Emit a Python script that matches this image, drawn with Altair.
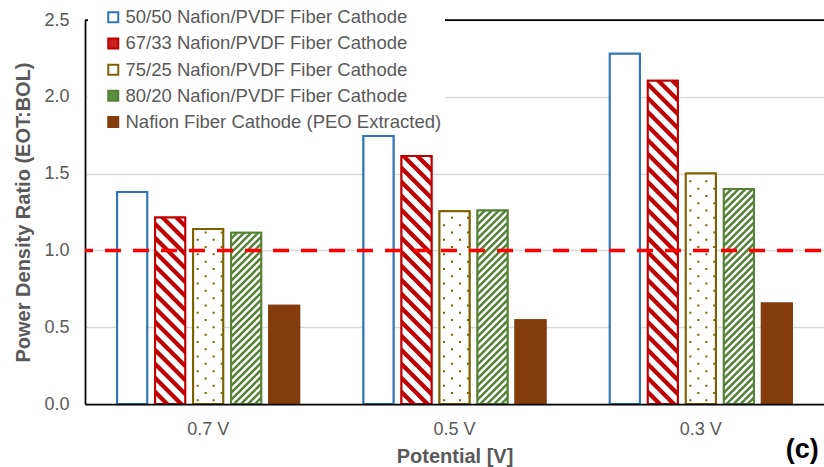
import math
import altair as alt
import pandas as pd

# ---------------- data ----------------
POTENTIALS = ["0.7 V", "0.5 V", "0.3 V"]
SERIES = [
    "50/50 Nafion/PVDF Fiber Cathode",
    "67/33 Nafion/PVDF Fiber Cathode",
    "75/25 Nafion/PVDF Fiber Cathode",
    "80/20 Nafion/PVDF Fiber Cathode",
    "Nafion Fiber Cathode (PEO Extracted)",
]
V_50_50 = [1.38, 1.745, 2.28]
V_67_33 = [1.215, 1.615, 2.105]
V_75_25 = [1.14, 1.255, 1.50]
V_80_20 = [1.115, 1.26, 1.40]
V_PEO = [0.64, 0.545, 0.655]
VALUES = [V_50_50, V_67_33, V_75_25, V_80_20, V_PEO]
REFERENCE = 1.0
Y_MAX = 2.5
Y_TICKS = [0, 0.5, 1.0, 1.5, 2.0, 2.5]

# ---------------- style ----------------
FONT = "Liberation Sans"
GREY = "#595959"
OUTLINE = ["#2E75B6", "#C00000", "#7F6000", "#548235", "#843C0C"]
LEGEND_FILL = ["#FFFFFF", "#C8201E", "#FFFFFF", "#5E8E42", "#843C0C"]
PLOT_W, PLOT_H = 739, 384
PAD = {"left": 85, "top": 20, "right": 0, "bottom": 63}
X_PAD_INNER = 0.261
OFF_PAD_INNER = 0.21

step_x = PLOT_W / (len(POTENTIALS) - X_PAD_INNER + X_PAD_INNER)
band_x = step_x * (1 - X_PAD_INNER)
step_off = band_x / (len(SERIES) - OFF_PAD_INNER)
bar_w = step_off * (1 - OFF_PAD_INNER)
HW = bar_w / 2
PPU = PLOT_H / Y_MAX

rows = []
for s, vals in zip(SERIES, VALUES):
    for p, v in zip(POTENTIALS, vals):
        rows.append({"potential": p, "series": s, "value": v})
df = pd.DataFrame(rows)


# ---------------- hatch textures (pixel-space symbol paths) ----------------
def clip(poly, x0, x1, y0, y1):
    def cut(pts, inside, inter):
        out = []
        for i, cur in enumerate(pts):
            prev = pts[i - 1]
            if inside(cur):
                if not inside(prev):
                    out.append(inter(prev, cur))
                out.append(cur)
            elif inside(prev):
                out.append(inter(prev, cur))
        return out

    def ix(X):
        return lambda p, c: (X, p[1] + (c[1] - p[1]) * (X - p[0]) / (c[0] - p[0]))

    def iy(Y):
        return lambda p, c: (p[0] + (c[0] - p[0]) * (Y - p[1]) / (c[1] - p[1]), Y)

    pts = poly
    for inside, inter in [
        (lambda p: p[0] >= x0, ix(x0)),
        (lambda p: p[0] <= x1, ix(x1)),
        (lambda p: p[1] >= y0, iy(y0)),
        (lambda p: p[1] <= y1, iy(y1)),
    ]:
        if not pts:
            break
        pts = cut(pts, inside, inter)
    return pts


def stripes(h, hw, period, thick, slope):
    parts = []
    lo = math.floor((-h - hw - thick - 4) / period) - 1
    hi = math.ceil((hw + thick + 4) / period) + 1
    for k in range(lo, hi + 1):
        c = k * period
        xa, xb = -hw - 2, hw + 2
        poly = [(xa, slope * xa + c), (xb, slope * xb + c),
                (xb, slope * xb + c + thick), (xa, slope * xa + c + thick)]
        pts = clip(poly, -hw, hw, -h, 0)
        if len(pts) >= 3:
            parts.append("M" + "L".join(f"{x:.2f},{y:.2f}" for x, y in pts) + "Z")
    return "".join(parts)


def dots(h, hw, row_gap, col_gap, size):
    parts = []
    j = 0
    while (j + 0.5) * row_gap < h - 2:
        y = -(j + 0.5) * row_gap
        x = -hw + 4.5 + (col_gap / 2 if j % 2 else 0)
        while x < hw - 1.5:
            parts.append(f"M{x - size / 2:.2f},{y - size / 2:.2f}h{size}v{size}h{-size}Z")
            x += col_gap
        j += 1
    return "".join(parts)


def texture(kind, v):
    h = v * PPU
    if kind == "down":
        return stripes(h, HW, 14, 6.0, 1)
    if kind == "up":
        return stripes(h, HW, 7, 3.5, -1)
    return dots(h, HW, 7.3, 16, 2)


PATTERNS = {1: "down", 2: "dots", 3: "up"}

x_enc = alt.X(
    "potential:N",
    sort=POTENTIALS,
    scale=alt.Scale(domain=POTENTIALS, paddingInner=X_PAD_INNER,
                    paddingOuter=X_PAD_INNER / 2, round=False),
    axis=alt.Axis(title="Potential [V]", labelAngle=0, ticks=False,
                  domainColor="black", domainWidth=1.75, labelFontSize=18,
                  labelColor=GREY, labelPadding=16, titleFontSize=20,
                  titleFontWeight="bold", titleColor=GREY, titlePadding=8,
                  zindex=1),
)
off_enc = alt.XOffset(
    "series:N",
    scale=alt.Scale(domain=SERIES, paddingInner=OFF_PAD_INNER, paddingOuter=0,
                    round=False),
)
y_enc = alt.Y(
    "value:Q",
    scale=alt.Scale(domain=[0, Y_MAX], nice=False),
    axis=alt.Axis(values=Y_TICKS, format=".1f", grid=True, gridColor="#d9d9d9",
                  gridWidth=1.5, domainColor="black", domainWidth=1.75,
                  ticks=False, labelFontSize=18, labelColor=GREY,
                  labelPadding=16, title="Power Density Ratio (EOT:BOL)",
                  titleFontSize=20, titleFontWeight="bold", titleColor=GREY,
                  titlePadding=10),
)

legend = alt.Legend(
    title=None, orient="none", legendX=3, legendY=-15, fillColor="white",
    padding=3, symbolType="square", symbolSize=100, symbolStrokeWidth=2,
    symbolOffset=13, labelOffset=3, labelFontSize=18.5, labelColor=GREY,
    labelFont=FONT, rowPadding=7.2, labelLimit=400,
)

base = alt.Chart(df)

# legend-carrying layer; its bars are fully covered by the layers drawn above
legend_layer = base.mark_bar(strokeWidth=2).encode(
    x=x_enc, xOffset=off_enc, y=y_enc,
    fill=alt.Fill("series:N", scale=alt.Scale(domain=SERIES, range=LEGEND_FILL),
                  legend=legend),
    stroke=alt.Stroke("series:N", scale=alt.Scale(domain=SERIES, range=OUTLINE),
                      legend=legend),
)

bars_fill = base.mark_bar(strokeWidth=0).encode(
    x=x_enc, xOffset=off_enc, y=y_enc,
    fill=alt.condition(f"datum.series === '{SERIES[4]}'",
                       alt.value(OUTLINE[4]), alt.value("white")),
)

hatch_layers = []
for idx, kind in PATTERNS.items():
    hrows = []
    for p, v in zip(POTENTIALS, VALUES[idx]):
        hrows.append({"potential": p, "series": SERIES[idx], "path": texture(kind, v)})
    hatch_layers.append(
        alt.Chart(pd.DataFrame(hrows)).mark_point(
            filled=True, size=4, opacity=1, strokeWidth=0, color=OUTLINE[idx]
        ).encode(
            x=x_enc, xOffset=off_enc, y=alt.datum(0),
            shape=alt.Shape("path:N", scale=None),
        )
    )

outline = base.mark_bar(filled=False, strokeWidth=2).encode(
    x=x_enc, xOffset=off_enc, y=y_enc,
    color=alt.Color("series:N", scale=alt.Scale(domain=SERIES, range=OUTLINE),
                    legend=None),
)

ref_line = alt.Chart(pd.DataFrame({"ref": [REFERENCE]})).mark_rule(
    color="#FF0000", strokeWidth=3.5, strokeDash=[16, 12], strokeDashOffset=25
).encode(y=alt.Y("ref:Q"))

top_line = alt.Chart(pd.DataFrame({"top": [Y_MAX]})).mark_rule(
    color="black", strokeWidth=1.75
).encode(y=alt.Y("top:Q"))

chart = alt.layer(
    legend_layer, bars_fill, *hatch_layers, outline, ref_line, top_line
).properties(
    width=PLOT_W, height=PLOT_H,
    autosize=alt.AutoSizeParams(type="none"),
    padding=PAD,
    title=alt.TitleParams("(c)", orient="bottom", anchor="end", fontSize=27,
                          fontWeight="bold", color="black", offset=-29, dx=-7,
                          font=FONT),
).configure(font=FONT).configure_view(stroke=None)

chart.save("out.html", embed_options={"renderer": "svg", "actions": False})
